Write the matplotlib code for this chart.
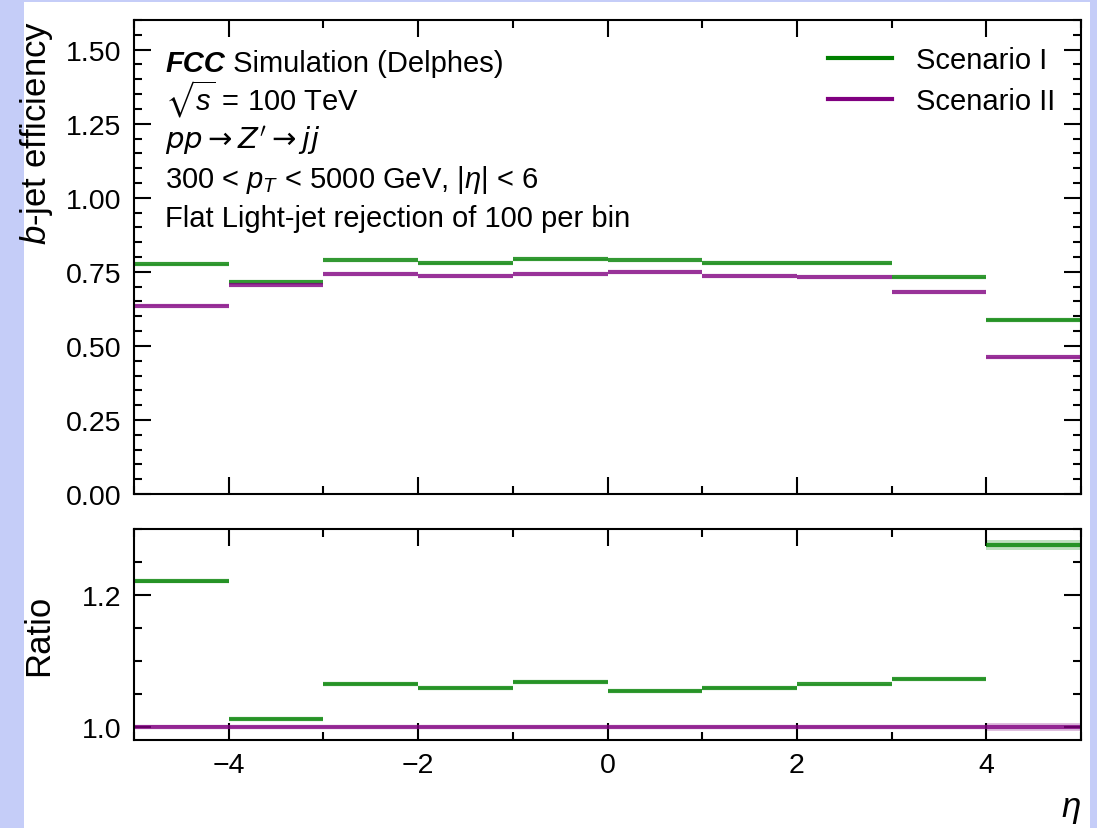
import numpy as np
import matplotlib.pyplot as plt
from matplotlib.patches import Rectangle
from matplotlib.lines import Line2D
from matplotlib.ticker import MultipleLocator

# eta bins and per-bin b-jet efficiencies
eta_edges = [-5, -4, -3, -2, -1, 0, 1, 2, 3, 4, 5]
eff_scen1 = [0.775, 0.715, 0.790, 0.779, 0.792, 0.790, 0.779, 0.779, 0.731, 0.588]
eff_scen2 = [0.635, 0.707, 0.742, 0.736, 0.742, 0.749, 0.736, 0.732, 0.682, 0.461]
err_scen1 = [0.0015, 0.001, 0.001, 0.001, 0.001, 0.001, 0.001, 0.001, 0.001, 0.0035]
err_scen2 = [0.0015, 0.001, 0.001, 0.001, 0.001, 0.001, 0.001, 0.001, 0.001, 0.003]
labels = ["Scenario I", "Scenario II"]
colors = ["green", "purple"]

plt.rcParams['font.family'] = ['Liberation Sans', 'DejaVu Sans']
plt.rcParams['mathtext.fontset'] = 'custom'
plt.rcParams['mathtext.rm'] = 'Liberation Sans'
plt.rcParams['mathtext.it'] = 'Liberation Sans:italic'
plt.rcParams['mathtext.bf'] = 'Liberation Sans:bold'
plt.rcParams['mathtext.fallback'] = 'stixsans'

W, H = 1097, 829
fig = plt.figure(figsize=(W / 100, H / 100), dpi=100)
fig.patch.set_facecolor('#c5cdf8')
fig.add_artist(Rectangle((24 / W, 0), (1090 - 24) / W, 1 - 3 / H,
                         transform=fig.transFigure, facecolor='white',
                         edgecolor='none', zorder=-10))

ax = fig.add_axes([134 / W, 1 - 495 / H, (1081 - 134) / W, (495 - 21) / H])
rax = fig.add_axes([134 / W, 1 - 741 / H, (1081 - 134) / W, (741 - 530) / H],
                   sharex=ax)

edges = np.array(eta_edges, dtype=float)
lo, hi = edges[:-1], edges[1:]
centers = 0.5 * (lo + hi)
eff = [np.array(eff_scen1), np.array(eff_scen2)]
err = [np.array(err_scen1), np.array(err_scen2)]
ref = eff[1]

for y, e, c in zip(eff, err, colors):
    ax.bar(centers, 2 * e, bottom=y - e, width=1.0, color=c, alpha=0.25,
           linewidth=0)
    ax.hlines(y, lo, hi, colors=c, alpha=0.8, linewidth=3)
    r = y / ref
    re = e / ref
    rax.bar(centers, 2 * re, bottom=r - re, width=1.0, color=c, alpha=0.25,
            linewidth=0)
    rax.hlines(r, lo, hi, colors=c, alpha=0.8, linewidth=3)

for a in (ax, rax):
    a.set_xlim(-5, 5)
    a.xaxis.set_major_locator(MultipleLocator(2))
    a.xaxis.set_minor_locator(MultipleLocator(1))
    a.tick_params(which='both', direction='in', top=True, right=True,
                  labelsize=20.5, width=1.5, pad=9)
    a.tick_params(which='major', length=12)
    a.tick_params(which='minor', length=6)
    for s in a.spines.values():
        s.set_linewidth(1.5)

ax.set_ylim(0, 1.6)
ax.yaxis.set_major_locator(MultipleLocator(0.25))
ax.yaxis.set_minor_locator(MultipleLocator(0.05))
ax.tick_params(labelbottom=False)

rax.set_ylim(0.98, 1.3)
rax.yaxis.set_major_locator(MultipleLocator(0.2))
rax.yaxis.set_minor_locator(MultipleLocator(0.05))

ax.set_ylabel("$b$-jet efficiency", loc='top', fontsize=25)
rax.set_ylabel("Ratio", fontsize=25)
ax.yaxis.set_label_coords(-0.083, 1.0)
rax.yaxis.set_label_coords(-0.083, 0.5)
rax.set_xlabel(r"$\eta$", loc='right', fontsize=25, labelpad=10)

handles = [Line2D([], [], color=c, linewidth=3) for c in colors]
ax.legend(handles, labels, loc='upper right', frameon=False, fontsize=21,
          handlelength=2.2, handletextpad=0.8, labelspacing=0.45)

tx = 0.033
t1 = ax.text(tx, 0.892, "FCC", transform=ax.transAxes, fontsize=21,
             fontweight='bold', style='italic', va='baseline')
ax.annotate(" Simulation (Delphes)", xy=(1, 0.892),
            xycoords=(t1, ax.transAxes), fontsize=21, va='baseline')
ax.text(tx, 0.812, r"$\sqrt{s}$ = 100 TeV", transform=ax.transAxes,
        fontsize=21, va='baseline')
ax.text(tx, 0.730, r"$pp \rightarrow Z' \rightarrow jj$",
        transform=ax.transAxes, fontsize=21, va='baseline',
        math_fontfamily='dejavusans')
ax.text(tx, 0.648, r"300 < $p_T$ < 5000 GeV, $|\eta|$ < 6",
        transform=ax.transAxes, fontsize=21, va='baseline')
ax.text(tx, 0.566, "Flat Light-jet rejection of 100 per bin",
        transform=ax.transAxes, fontsize=21, va='baseline')

fig.savefig("out.png", dpi=100, facecolor=fig.get_facecolor())
